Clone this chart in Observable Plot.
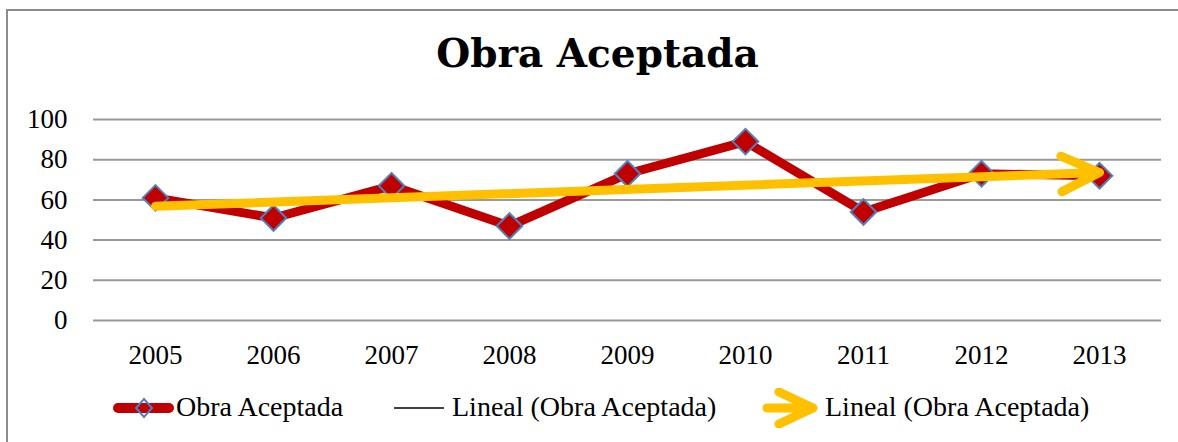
<!DOCTYPE html>
<html><head><meta charset="utf-8">
<script src="https://cdn.jsdelivr.net/npm/d3@7"></script>
<script src="https://cdn.jsdelivr.net/npm/@observablehq/plot@0.6"></script>
<style>
body{margin:0;background:#fff;width:1178px;height:442px;overflow:hidden;position:relative;font-family:"Liberation Serif",serif;}
#frame{position:absolute;left:6px;top:9px;width:1200px;height:500px;border-left:2px solid #8c8c8c;border-top:2px solid #8c8c8c;}
#title{position:absolute;left:0;width:1178px;text-align:center;top:34px;font:bold 39px/1 "DejaVu Serif",serif;padding-left:17px;box-sizing:border-box;color:#000}
#chart{position:absolute;left:0;top:100px;}
.leg{position:absolute;font-size:28px;line-height:1;top:393px;white-space:nowrap;color:#000}
#legsw{position:absolute;left:0;top:388px;}
</style></head><body>
<div id="frame"></div>
<div id="title">Obra Aceptada</div>
<div id="chart"></div>
<svg id="legsw" width="1178" height="40">
  <line x1="118" y1="20" x2="169" y2="20" stroke="#C00000" stroke-width="10" stroke-linecap="round"/>
  <path d="M144,11 L152,20 L144,29 L136,20 Z" fill="none" stroke="#4F81BD" stroke-width="2"/>
  <line x1="394" y1="20" x2="444" y2="20" stroke="#000" stroke-width="1.5"/>
  <path d="M767,20 L813,20 M779,4 L813,20 L779,36" fill="none" stroke="#FFC000" stroke-width="9" stroke-linecap="round" stroke-linejoin="round"/>
</svg>
<div class="leg" style="left:176px">Obra Aceptada</div>
<div class="leg" style="left:452px">Lineal (Obra Aceptada)</div>
<div class="leg" style="left:825px">Lineal (Obra Aceptada)</div>
<script>
const years = ["2005","2006","2007","2008","2009","2010","2011","2012","2013"];
const values = [61, 51, 67, 47, 73, 89, 54, 73, 72];
const yTicks = [0, 20, 40, 60, 80, 100];

const data = years.map((y, i) => ({year: y, value: values[i], i}));
// linear trend (least squares) from the data
const n = values.length;
const mx = d3.mean(data, d => d.i), my = d3.mean(values);
const slope = d3.sum(data, d => (d.i - mx) * (d.value - my)) / d3.sum(data, d => (d.i - mx) ** 2);
const fit = i => my + slope * (i - mx);
const trend = [{year: years[0], value: fit(0)}, {year: years[n - 1], value: fit(n - 1)}];
const arrowData = [{x1: years[0], y1: fit(0), x2: years[n - 1], y2: fit(n - 1)}];

const chart = Plot.plot({
  width: 1178,
  height: 280,
  marginLeft: 93,
  marginRight: 17,
  marginTop: 19,
  marginBottom: 60,
  style: {fontFamily: "Liberation Serif", fontSize: "27px", color: "#000", background: "transparent", overflow: "visible"},
  x: {type: "point", domain: years, padding: 0.5, label: null},
  y: {domain: [0, 100], label: null},
  marks: [
    Plot.ruleY(yTicks, {stroke: "#999", strokeWidth: 2}),
    Plot.axisY({ticks: yTicks, tickSize: 0, tickPadding: 26, label: null}),
    Plot.axisX({tickSize: 0, tickPadding: 24, label: null}),
    Plot.line(data, {x: "year", y: "value", stroke: "#C00000", strokeWidth: 9}),
    Plot.dot(data, {x: "year", y: "value", symbol: "diamond2", r: 11.5, fill: "#C00000", stroke: "#4F81BD", strokeWidth: 2}),
    Plot.line(trend, {x: "year", y: "value", stroke: "#000", strokeWidth: 1.5}),
    Plot.arrow(arrowData, {x1: "x1", y1: "y1", x2: "x2", y2: "y2", stroke: "#FFC000", strokeWidth: 9, headLength: 7, headAngle: 50, strokeLinecap: "round", strokeLinejoin: "round"})
  ]
});
document.getElementById("chart").appendChild(chart);
</script>
</body></html>
